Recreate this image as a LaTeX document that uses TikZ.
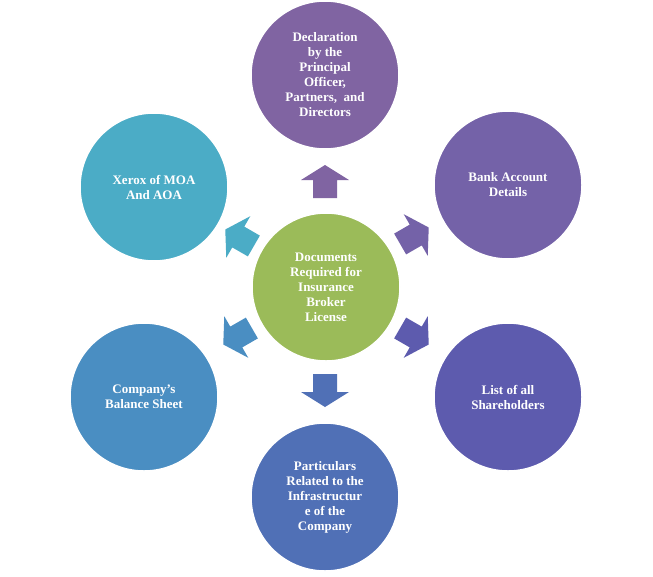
\documentclass[tikz,border=0pt]{standalone}
\usepackage{fontspec}
\setmainfont{Liberation Serif}
\definecolor{cg}{HTML}{9BBB59}
\definecolor{c1}{HTML}{8064A2}
\definecolor{c2}{HTML}{7462A8}
\definecolor{c3}{HTML}{5D5BAE}
\definecolor{c4}{HTML}{5070B6}
\definecolor{c5}{HTML}{4A8EC2}
\definecolor{c6}{HTML}{4BACC6}
\begin{document}
\begin{tikzpicture}[x=1pt,y=-1pt,
  circ/.style={circle,draw=white,line width=1.5pt,minimum size=148pt,inner sep=0pt,align=center,text=white,font=\bfseries\fontsize{13}{15}\selectfont}]
\useasboundingbox (0,0) rectangle (653,576);
\fill[white] (0,0) rectangle (653,576);
\node[circ,fill=cg] (c) at (326,287) {Documents\\Required for\\Insurance\\Broker\\License};
\node[circ,fill=c1] (n1) at (325,75) {Declaration\\by the\\Principal\\Officer,\\Partners,\ \ and\\Directors};
\node[circ,fill=c2] (n2) at (508,185) {Bank Account\\Details};
\node[circ,fill=c3] (n3) at (508,397) {List of all\\Shareholders};
\node[circ,fill=c4] (n4) at (325,497) {Particulars\\Related to the\\Infrastructur\\e of the\\Company};
\node[circ,fill=c5] (n5) at (144,397) {Company’s\\Balance Sheet};
\node[circ,fill=c6] (n6) at (154,187) {Xerox of MOA\\And AOA};
\foreach \col/\x/\y/\r in {c1/325/182/90, c2/414/236/30, c3/414/336/-30, c4/325/390/-90, c5/238/336/-150, c6/240/238/150}
  \fill[\col,shift={(\x,\y)},rotate=\r] (-16,-12) -- (2,-12) -- (2,-24) -- (17,0) -- (2,24) -- (2,12) -- (-16,12) -- cycle;
\end{tikzpicture}
\end{document}
